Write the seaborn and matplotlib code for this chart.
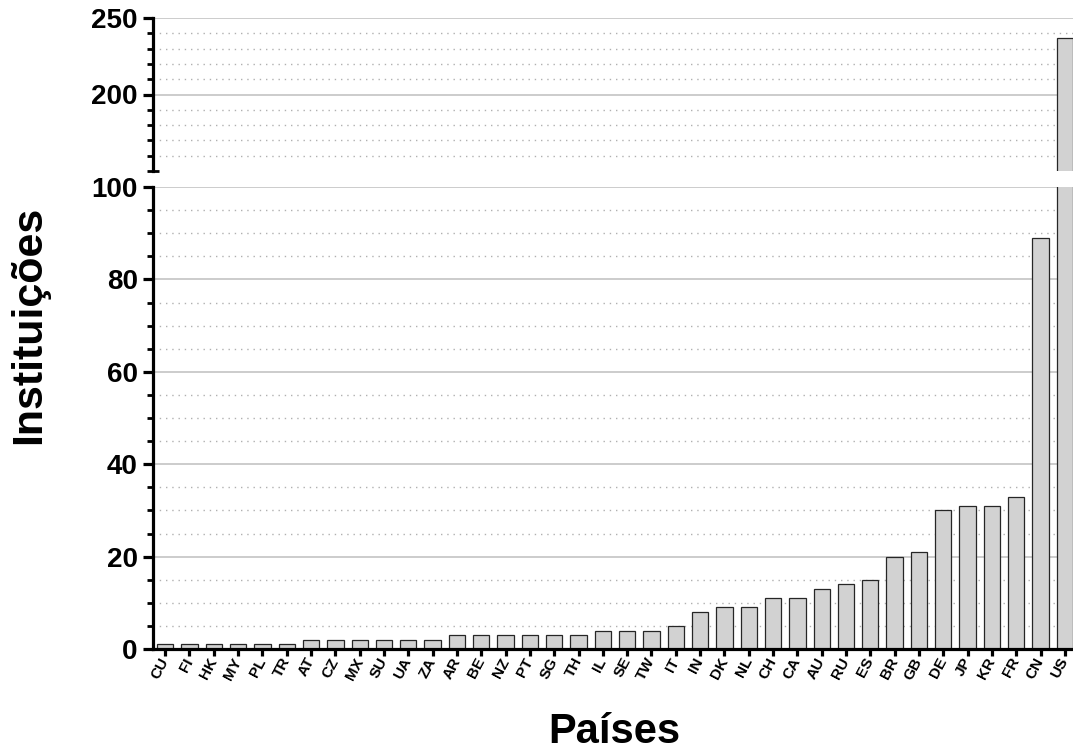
import matplotlib
matplotlib.use("Agg")
import matplotlib.pyplot as plt
from matplotlib.ticker import MultipleLocator, FixedLocator
import seaborn as sns
import pandas as pd

# Institutions per country
paises = ["CU", "FI", "HK", "MY", "PL", "TR", "AT", "CZ", "MX", "SU", "UA", "ZA",
          "AR", "BE", "NZ", "PT", "SG", "TH", "IL", "SE", "TW", "IT", "IN", "DK",
          "NL", "CH", "CA", "AU", "RU", "ES", "BR", "GB", "DE", "JP", "KR", "FR",
          "CN", "US"]
instituicoes = [1, 1, 1, 1, 1, 1, 2, 2, 2, 2, 2, 2,
                3, 3, 3, 3, 3, 3, 4, 4, 4, 5, 8, 9,
                9, 11, 11, 13, 14, 15, 20, 21, 30, 31, 31, 33,
                89, 237]

df = pd.DataFrame({"Países": paises, "Instituições": instituicoes})

sns.set_style("ticks")
plt.rcParams["font.family"] = ["Liberation Sans", "DejaVu Sans"]
plt.rcParams["font.weight"] = "bold"
plt.rcParams["text.color"] = "black"
plt.rcParams["xtick.color"] = "black"
plt.rcParams["ytick.color"] = "black"
plt.rcParams["axes.edgecolor"] = "black"

W, H = 1073, 753
fig = plt.figure(figsize=(W / 100, H / 100), dpi=100)

left = 153 / W
width = (1077 - 153) / W
ax_lo = fig.add_axes([left, 1 - 649 / H, width, (649 - 187) / H])
ax_hi = fig.add_axes([left, 1 - 171 / H, width, (171 - 18) / H])

bar_kw = dict(data=df, x="Países", y="Instituições", color="#d2d2d2",
              saturation=1, edgecolor="#262626", linewidth=0.9, width=0.67)
for ax in (ax_lo, ax_hi):
    sns.barplot(ax=ax, **bar_kw)
    ax.set_xlim(-0.5, len(paises) - 0.5)
    ax.set_axisbelow(True)
    ax.set_xlabel("")
    ax.set_ylabel("")
    for s in ("top", "right"):
        ax.spines[s].set_visible(False)
    ax.spines["left"].set_linewidth(2.3)
    ax.grid(which="major", axis="y", color="#c4c4c4", linewidth=1.2, linestyle="-")
    ax.grid(which="minor", axis="y", color="#b0b0b0", linewidth=1.0,
            linestyle=(0, (1, 3.5)))
    ax.grid(which="both", axis="x", visible=False)
    ax.tick_params(axis="y", which="major", left=True, length=7, width=2.3,
                   color="black", labelcolor="black", labelsize=20, pad=4)
    ax.tick_params(axis="y", which="minor", left=True, length=4.5, width=2.0,
                   color="black")

# lower panel: 0 – 100
ax_lo.set_ylim(0, 100)
ax_lo.yaxis.set_major_locator(MultipleLocator(20))
ax_lo.yaxis.set_minor_locator(MultipleLocator(5))
ax_lo.spines["bottom"].set_linewidth(2.3)
ax_lo.tick_params(axis="x", which="major", bottom=True, length=5, width=2.3,
                  color="black", labelcolor="black", pad=2)
ax_lo.tick_params(axis="x", which="minor", bottom=False)
ax_lo.set_xticks(range(len(paises)))
ax_lo.set_xticklabels(paises, rotation=62, ha="right", va="center",
                      rotation_mode="anchor", fontsize=11, fontweight="bold")
ax_lo.set_yticks([0, 20, 40, 60, 80, 100])
ax_lo.set_yticklabels(["0", "20", "40", "60", "80", "100"], fontweight="bold")

# upper panel: 150 – 250
ax_hi.set_ylim(150, 250)
ax_hi.yaxis.set_major_locator(FixedLocator([200, 250]))
ax_hi.yaxis.set_minor_locator(FixedLocator([160, 170, 180, 190, 210, 220, 230, 240]))
ax_hi.set_yticklabels(["200", "250"], fontweight="bold")
ax_hi.spines["bottom"].set_visible(False)
ax_hi.tick_params(axis="x", which="both", bottom=False, labelbottom=False)
# short cap at the end of the broken axis
ax_hi.plot([-0.006, 0.006], [150, 150], color="black", lw=2.0,
           transform=ax_hi.get_yaxis_transform(), clip_on=False,
           solid_capstyle="butt")

fig.text(29 / W, 1 - 325 / H, "Instituições", rotation=90, ha="center",
         va="center", fontsize=31, fontweight="bold")
fig.text(614 / W, 1 - 743 / H, "Países", ha="center", va="baseline",
         fontsize=30, fontweight="bold")

fig.savefig("out.png", dpi=100)
